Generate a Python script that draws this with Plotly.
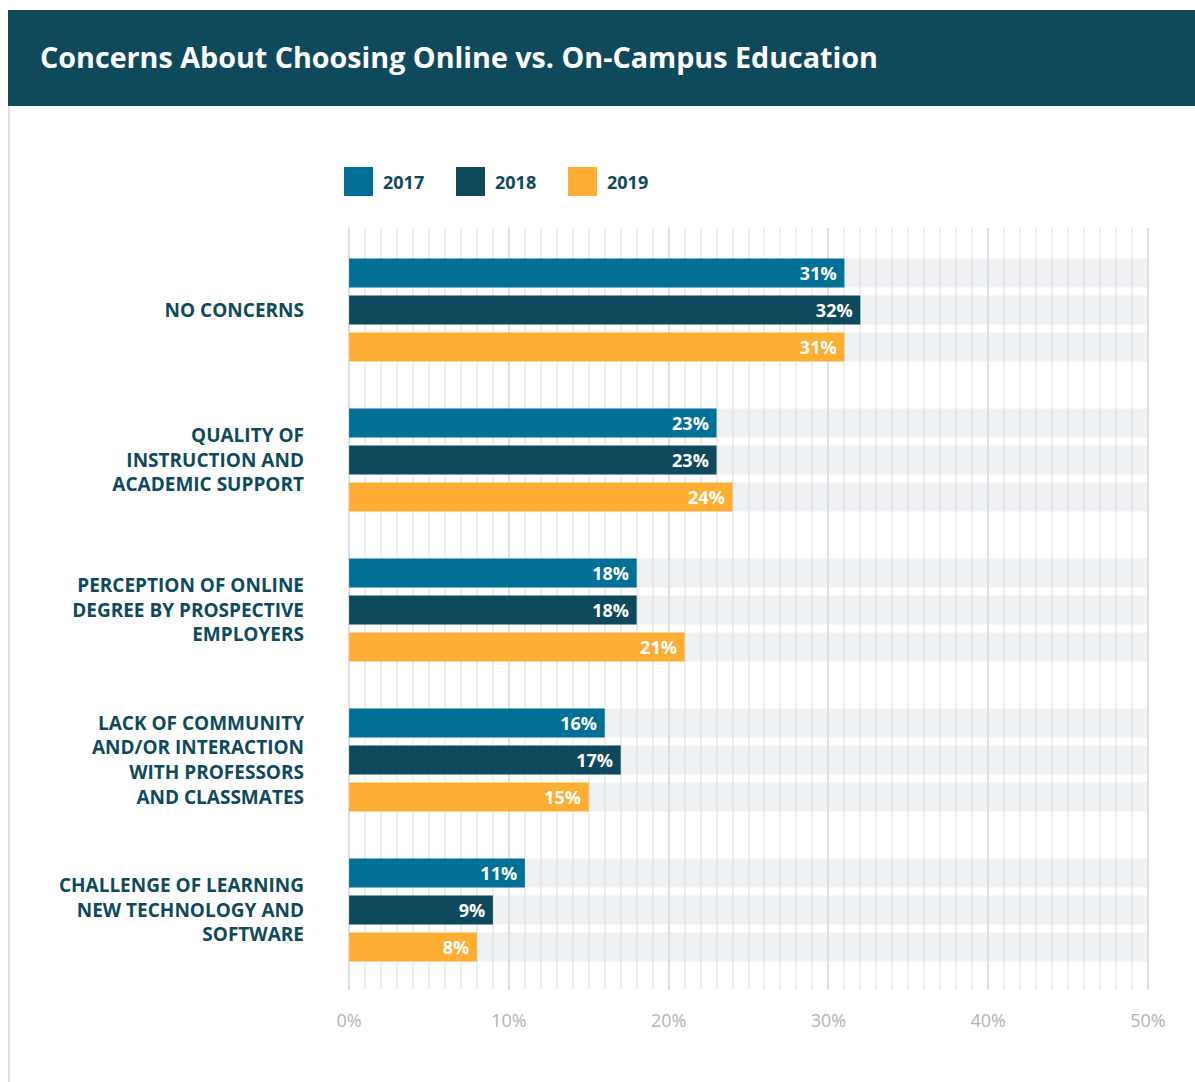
import plotly.graph_objects as go

# Survey data: share of respondents naming each concern
categories = [
    "NO CONCERNS",
    "QUALITY OF<br>INSTRUCTION AND<br>ACADEMIC SUPPORT",
    "PERCEPTION OF ONLINE<br>DEGREE BY PROSPECTIVE<br>EMPLOYERS",
    "LACK OF COMMUNITY<br>AND/OR INTERACTION<br>WITH PROFESSORS<br>AND CLASSMATES",
    "CHALLENGE OF LEARNING<br>NEW TECHNOLOGY AND<br>SOFTWARE",
]
years = ["2017", "2018", "2019"]
values_2017 = [31, 23, 18, 16, 11]
values_2018 = [32, 23, 18, 17, 9]
values_2019 = [31, 24, 21, 15, 8]
x_ticks = [0, 10, 20, 30, 40, 50]
x_tick_labels = ["0%", "10%", "20%", "30%", "40%", "50%"]
axis_max = 50

series = [values_2017, values_2018, values_2019]
colors = ["#007096", "#0f4a5c", "#fdae33"]
DARK = "#0f4a5c"
FONT = "Open Sans"

W, H = 1195, 1082
L, R, T, B = 348, 46, 228, 92
plot_w = W - L - R
plot_h = H - T - B


def px_x(px):
    return (px - L) / plot_w


def px_y(py):
    return (H - B - py) / plot_h


fig = go.Figure()

# light track behind each bar, spanning the full axis
for yr in years:
    fig.add_trace(go.Bar(
        y=categories, x=[axis_max] * len(categories), orientation="h",
        offsetgroup=yr, marker=dict(color="rgba(218,222,226,0.42)", line=dict(width=0)),
        hoverinfo="skip", showlegend=False,
    ))

for yr, vals, col in zip(years, series, colors):
    fig.add_trace(go.Bar(
        y=categories, x=vals, orientation="h", name=yr,
        offsetgroup=yr, marker=dict(color=col, line=dict(width=0)),
        texttemplate="%{x}%&nbsp;", textposition="inside", insidetextanchor="end",
        textangle=0, constraintext="none",
        textfont=dict(family=FONT, size=18, color="white", weight="bold"),
        showlegend=False,
    ))

shapes = []
annotations = []

# header band
shapes.append(dict(type="rect", xref="paper", yref="paper",
                   x0=px_x(8), x1=px_x(W), y0=px_y(106), y1=px_y(10),
                   fillcolor=DARK, line=dict(width=0), layer="below"))
# left frame edge
shapes.append(dict(type="line", xref="paper", yref="paper",
                   x0=px_x(9), x1=px_x(9), y0=px_y(106), y1=px_y(H),
                   line=dict(color="#dedede", width=2)))
annotations.append(dict(text="<b>Concerns About Choosing Online vs. On-Campus Education</b>",
                        xref="paper", yref="paper", x=px_x(38), y=px_y(57),
                        xanchor="left", yanchor="middle", showarrow=False,
                        font=dict(family=FONT, size=28.7, color="white")))

# legend swatches
for i, (yr, col) in enumerate(zip(years, colors)):
    x0 = 344 + i * 112
    shapes.append(dict(type="rect", xref="paper", yref="paper",
                       x0=px_x(x0), x1=px_x(x0 + 29), y0=px_y(196), y1=px_y(167),
                       fillcolor=col, line=dict(width=0)))
    annotations.append(dict(text=f"<b>{yr}</b>", xref="paper", yref="paper",
                            x=px_x(x0 + 37), y=px_y(182), xanchor="left", yanchor="middle",
                            showarrow=False, font=dict(family=FONT, size=18, color=DARK)))

fig.update_layout(
    width=W, height=H,
    margin=dict(l=L, r=R, t=T, b=B, pad=0),
    paper_bgcolor="white", plot_bgcolor="white",
    barmode="group", bargap=0.26, bargroupgap=0.216,
    shapes=shapes, annotations=annotations,
    font=dict(family=FONT),
)

fig.update_xaxes(
    range=[-0.07, axis_max + 0.07], tickvals=x_ticks, ticktext=x_tick_labels,
    showgrid=True, gridcolor="#dde1e5", gridwidth=2,
    minor=dict(tick0=0, dtick=1, showgrid=True, gridcolor="#eceef0", gridwidth=2),
    zeroline=False, showline=False,
    ticks="outside", ticklen=14, tickcolor="rgba(0,0,0,0)",
    tickfont=dict(family=FONT, size=18, color="#b3b3b3"),
    fixedrange=True,
)
fig.update_yaxes(
    type="category", categoryorder="array", categoryarray=categories,
    range=[len(categories) - 0.467, -0.547],
    showgrid=False, zeroline=False, showline=False,
    ticks="", ticklabelstandoff=43,
    tickfont=dict(family=FONT, size=19, color=DARK, weight="bold"),
    fixedrange=True,
)

fig.write_html("out.html")
